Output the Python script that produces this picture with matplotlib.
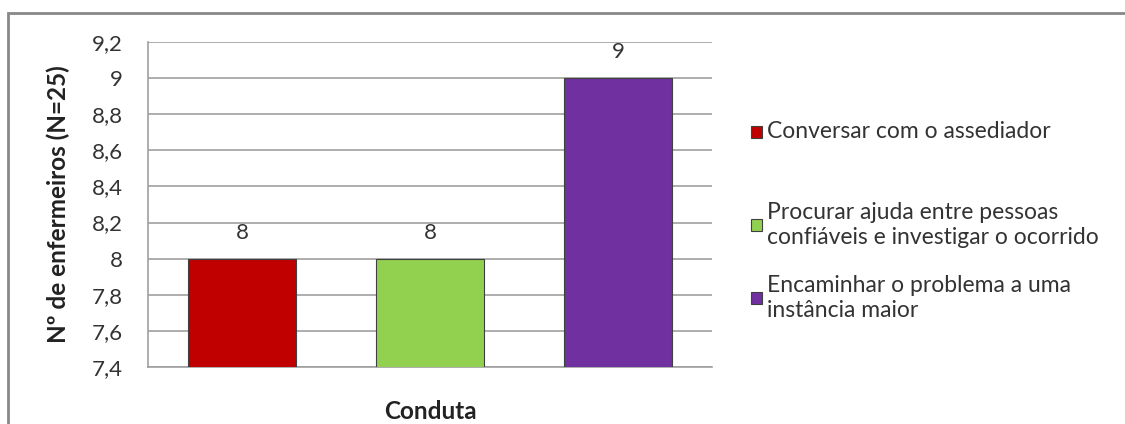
import matplotlib.pyplot as plt
from matplotlib.patches import Rectangle
from matplotlib.ticker import FuncFormatter

plt.rcParams['font.family'] = ['Lato', 'DejaVu Sans']

# dados
condutas = ["Conversar com o assediador",
            "Procurar ajuda entre pessoas\nconfiáveis e investigar o ocorrido",
            "Encaminhar o problema a uma\ninstância maior"]
valores = [8, 8, 9]
cores = ["#C00000", "#92D050", "#7030A0"]
yticks = [7.4, 7.6, 7.8, 8.0, 8.2, 8.4, 8.6, 8.8, 9.0, 9.2]

fig = plt.figure(figsize=(11.25, 4.24), dpi=100)
ax = fig.add_axes([0.1316, 0.1344, 0.5013, 0.7665])

pos = range(len(valores))
ax.bar(pos, valores, width=0.575, color=cores, edgecolor="#404040",
       linewidth=0.8, zorder=3)
for x, v in zip(pos, valores):
    ax.text(x, v + 0.145, f"{v}", ha="center", va="center",
            fontsize=16, color="#333333")

ax.set_xlim(-0.5, 2.5)
ax.set_ylim(7.4, 9.2)
ax.set_yticks(yticks)
ax.yaxis.set_major_formatter(FuncFormatter(lambda v, p: f"{v:g}".replace(".", ",")))
ax.set_xticks([])
ax.tick_params(axis="y", length=0, labelsize=16, labelcolor="#333333", pad=18)
ax.grid(axis="y", color="#A0A0A0", linewidth=1.2, zorder=0)
for s in ["top", "right"]:
    ax.spines[s].set_visible(False)
for s in ["left", "bottom"]:
    ax.spines[s].set_color("#A0A0A0")
    ax.spines[s].set_linewidth(1.2)

ax.set_ylabel("Nº de enfermeiros (N=25)", fontsize=17.5, fontweight="bold",
              color="#222222")
ax.yaxis.set_label_coords(-78 / 564, 0.5)
ax.set_xlabel("Conduta", fontsize=17.5, fontweight="bold", color="#222222")
ax.xaxis.set_label_coords(0.5, -33 / 325)

# legenda
leg_y = [132, 225, 298]
for cor, txt, yc in zip(cores, condutas, leg_y):
    yf = 1 - yc / 424
    fig.patches.append(Rectangle((751 / 1125, yf - 6 / 424), 11 / 1125, 12 / 424,
                                 transform=fig.transFigure, facecolor=cor,
                                 edgecolor="#404040", linewidth=0.8))
    fig.text(767 / 1125, yf, txt, ha="left", va="center", fontsize=16.5,
             color="#333333", linespacing=1.2)

# moldura
fig.patches.append(Rectangle((8 / 1125, -0.05), 1.1, 1 - 13 / 424 + 0.05,
                             transform=fig.transFigure, fill=False,
                             edgecolor="#888888", linewidth=2))

fig.savefig("out.png", dpi=100)
